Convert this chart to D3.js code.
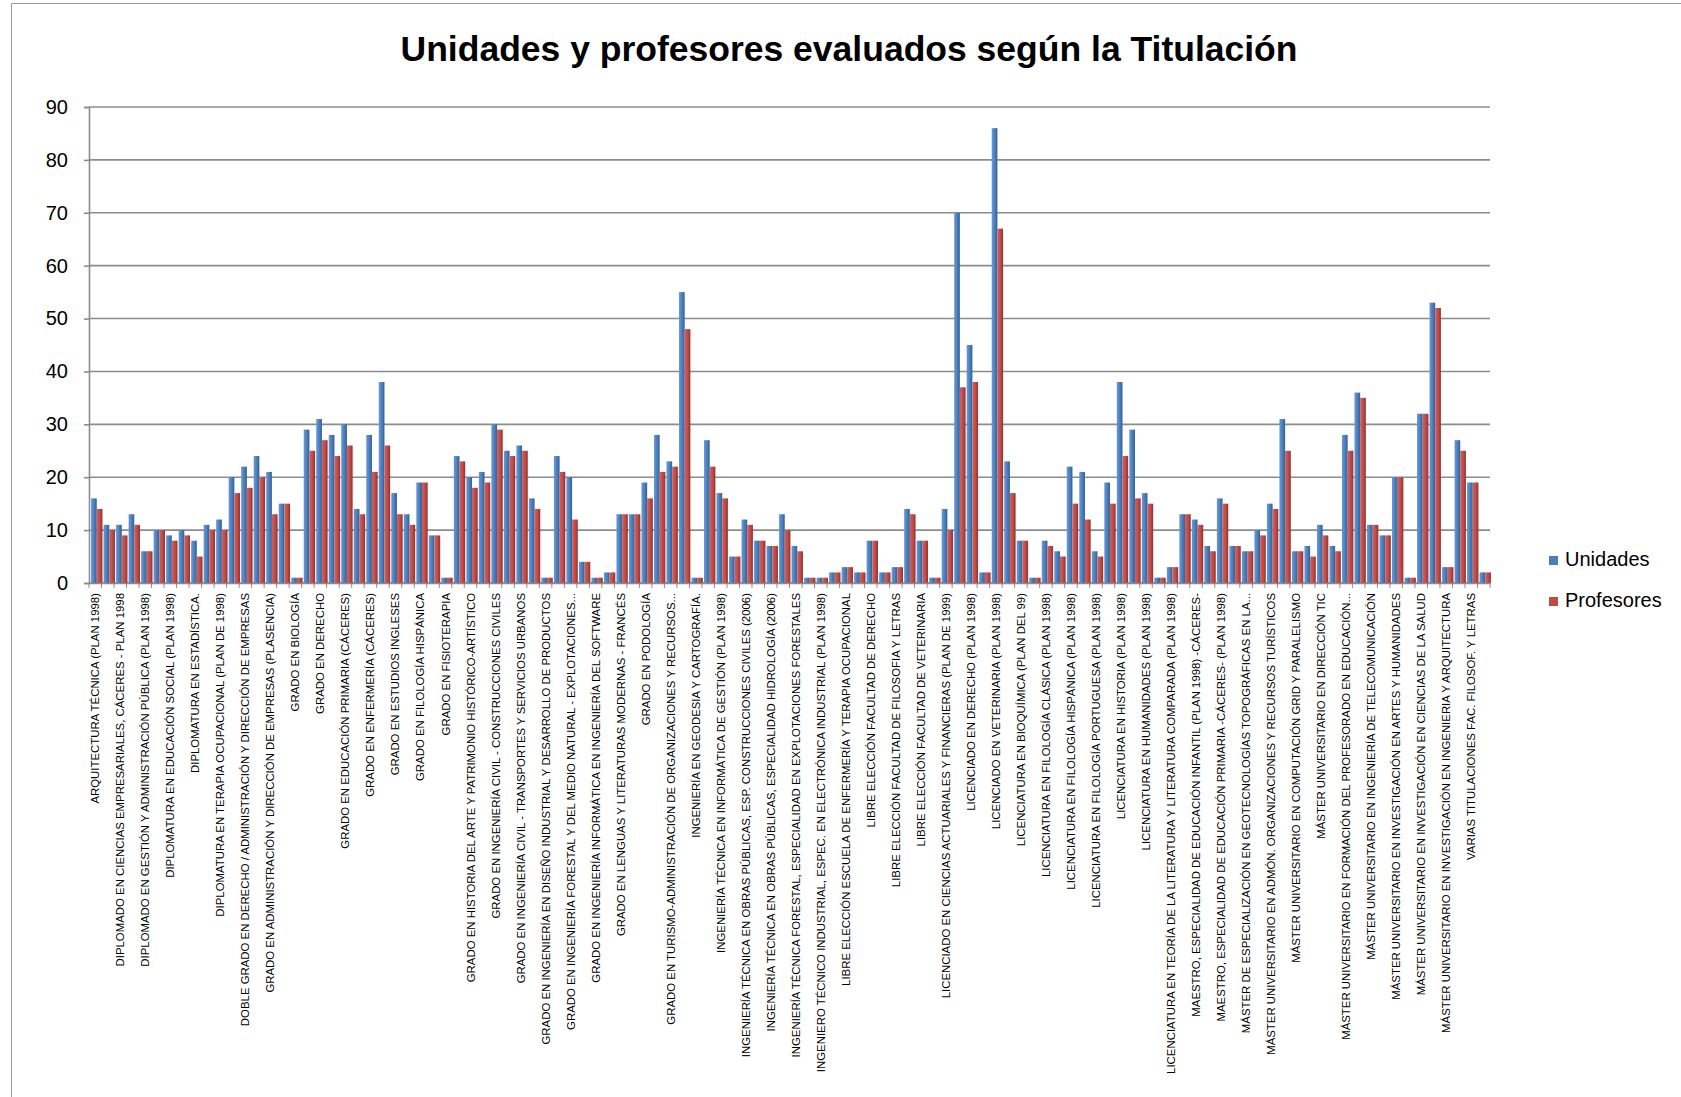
<!DOCTYPE html>
<html>
<head>
<meta charset="utf-8">
<script src="https://cdn.jsdelivr.net/npm/d3@7"></script>
<style>
  body { margin: 0; background: #fff; }
  svg { display: block; }
</style>
</head>
<body>
<svg id="chart"></svg>
<script>
// labels shown on the axis (Excel only prints every other category)
const tickLabels = [
  'ARQUITECTURA TÉCNICA (PLAN 1998)',
  'DIPLOMADO EN CIENCIAS EMPRESARIALES, CÁCERES - PLAN 1998',
  'DIPLOMADO EN GESTIÓN Y ADMINISTRACIÓN PÚBLICA (PLAN 1998)',
  'DIPLOMATURA EN EDUCACIÓN SOCIAL (PLAN 1998)',
  'DIPLOMATURA EN ESTADÍSTICA.',
  'DIPLOMATURA EN TERAPIA OCUPACIONAL (PLAN DE 1998)',
  'DOBLE GRADO EN DERECHO / ADMINISTRACIÓN Y DIRECCIÓN DE EMPRESAS',
  'GRADO EN ADMINISTRACIÓN Y DIRECCIÓN DE EMPRESAS (PLASENCIA)',
  'GRADO EN BIOLOGÍA',
  'GRADO EN DERECHO',
  'GRADO EN EDUCACIÓN PRIMARIA (CÁCERES)',
  'GRADO EN ENFERMERÍA (CÁCERES)',
  'GRADO EN ESTUDIOS INGLESES',
  'GRADO EN FILOLOGÍA HISPÁNICA',
  'GRADO EN FISIOTERAPIA',
  'GRADO EN HISTORIA DEL ARTE Y PATRIMONIO HISTÓRICO-ARTÍSTICO',
  'GRADO EN INGENIERÍA CIVIL - CONSTRUCCIONES CIVILES',
  'GRADO EN INGENIERÍA CIVIL - TRANSPORTES Y SERVICIOS URBANOS',
  'GRADO EN INGENIERÍA EN DISEÑO INDUSTRIAL Y DESARROLLO DE PRODUCTOS',
  'GRADO EN INGENIERÍA FORESTAL Y DEL MEDIO NATURAL - EXPLOTACIONES...',
  'GRADO EN INGENIERÍA INFORMÁTICA EN INGENIERÍA DEL SOFTWARE',
  'GRADO EN LENGUAS Y LITERATURAS MODERNAS - FRANCÉS',
  'GRADO EN PODOLOGÍA',
  'GRADO EN TURISMO-ADMINISTRACIÓN DE ORGANIZACIONES Y RECURSOS...',
  'INGENIERÍA EN GEODESIA Y CARTOGRAFÍA.',
  'INGENIERÍA TÉCNICA EN INFORMÁTICA DE GESTIÓN (PLAN 1998)',
  'INGENIERÍA TÉCNICA EN OBRAS PÚBLICAS, ESP. CONSTRUCCIONES CIVILES (2006)',
  'INGENIERÍA TÉCNICA EN OBRAS PÚBLICAS, ESPECIALIDAD HIDROLOGÍA (2006)',
  'INGENIERÍA TÉCNICA FORESTAL, ESPECIALIDAD EN EXPLOTACIONES FORESTALES',
  'INGENIERO TÉCNICO INDUSTRIAL, ESPEC. EN ELECTRÓNICA INDUSTRIAL (PLAN 1998)',
  'LIBRE ELECCIÓN ESCUELA DE ENFERMERÍA Y TERAPIA OCUPACIONAL',
  'LIBRE ELECCIÓN FACULTAD DE DERECHO',
  'LIBRE ELECCIÓN FACULTAD DE FILOSOFIA Y LETRAS',
  'LIBRE ELECCIÓN FACULTAD DE VETERINARIA',
  'LICENCIADO EN CIENCIAS ACTUARIALES Y FINANCIERAS  (PLAN DE 1999)',
  'LICENCIADO EN DERECHO (PLAN 1998)',
  'LICENCIADO EN VETERINARIA  (PLAN 1998)',
  'LICENCIATURA EN BIOQUÍMICA (PLAN DEL 99)',
  'LICENCIATURA EN FILOLOGÍA CLÁSICA (PLAN 1998)',
  'LICENCIATURA EN FILOLOGÍA HISPÁNICA (PLAN 1998)',
  'LICENCIATURA EN FILOLOGÍA PORTUGUESA (PLAN 1998)',
  'LICENCIATURA EN HISTORIA (PLAN 1998)',
  'LICENCIATURA EN HUMANIDADES (PLAN 1998)',
  'LICENCIATURA EN TEORÍA DE LA LITERATURA Y LITERATURA COMPARADA (PLAN 1998)',
  'MAESTRO, ESPECIALIDAD DE EDUCACIÓN INFANTIL (PLAN 1998) -CÁCERES-',
  'MAESTRO, ESPECIALIDAD DE EDUCACIÓN PRIMARIA -CÁCERES-  (PLAN 1998)',
  'MÁSTER DE ESPECIALIZACIÓN EN GEOTECNOLOGÍAS TOPOGRÁFICAS EN LA...',
  'MÁSTER UNIVERSITARIO EN ADMÓN. ORGANIZACIONES Y RECURSOS TURÍSTICOS',
  'MÁSTER UNIVERSITARIO EN COMPUTACIÓN GRID Y PARALELISMO',
  'MÁSTER UNIVERSITARIO EN DIRECCIÓN TIC',
  'MÁSTER UNIVERSITARIO EN FORMACIÓN DEL PROFESORADO EN EDUCACIÓN...',
  'MÁSTER UNIVERSITARIO EN INGENIERÍA DE TELECOMUNICACIÓN',
  'MÁSTER UNIVERSITARIO EN INVESTIGACIÓN EN ARTES Y HUMANIDADES',
  'MÁSTER UNIVERSITARIO EN INVESTIGACIÓN EN CIENCIAS DE LA SALUD',
  'MÁSTER UNIVERSITARIO EN INVESTIGACIÓN EN INGENIERIA Y ARQUITECTURA',
  'VARIAS TITULACIONES FAC. FILOSOF. Y LETRAS'
];

const unidades = [
  16, 11, 11, 13, 6, 10, 9, 10, 8, 11,
  12, 20, 22, 24, 21, 15, 1, 29, 31, 28,
  30, 14, 28, 38, 17, 13, 19, 9, 1, 24,
  20, 21, 30, 25, 26, 16, 1, 24, 20, 4,
  1, 2, 13, 13, 19, 28, 23, 55, 1, 27,
  17, 5, 12, 8, 7, 13, 7, 1, 1, 2,
  3, 2, 8, 2, 3, 14, 8, 1, 14, 70,
  45, 2, 86, 23, 8, 1, 8, 6, 22, 21,
  6, 19, 38, 29, 17, 1, 3, 13, 12, 7,
  16, 7, 6, 10, 15, 31, 6, 7, 11, 7,
  28, 36, 11, 9, 20, 1, 32, 53, 3, 27,
  19, 2
];

const profesores = [
  14, 10, 9, 11, 6, 10, 8, 9, 5, 10,
  10, 17, 18, 20, 13, 15, 1, 25, 27, 24,
  26, 13, 21, 26, 13, 11, 19, 9, 1, 23,
  18, 19, 29, 24, 25, 14, 1, 21, 12, 4,
  1, 2, 13, 13, 16, 21, 22, 48, 1, 22,
  16, 5, 11, 8, 7, 10, 6, 1, 1, 2,
  3, 2, 8, 2, 3, 13, 8, 1, 10, 37,
  38, 2, 67, 17, 8, 1, 7, 5, 15, 12,
  5, 15, 24, 16, 15, 1, 3, 13, 11, 6,
  15, 7, 6, 9, 14, 25, 6, 5, 9, 6,
  25, 35, 11, 9, 20, 1, 32, 52, 3, 25,
  19, 2
];

const series = ['Unidades', 'Profesores'];
const yTicks = [0, 10, 20, 30, 40, 50, 60, 70, 80, 90];

const width = 1681;
const height = 1097;
const margin = { top: 107, right: 191, bottom: 514, left: 89 };
const colors = { Unidades: ['#6a9ad6', '#4a7ebb', '#335f96'], Profesores: ['#d2625e', '#be4b48', '#93302e'] };

const svg = d3.select('#chart')
  .attr('width', width)
  .attr('height', height)
  .style('font-family', '"Liberation Sans", Arial, sans-serif');

// frame of the chart area
svg.append('path')
  .attr('d', `M11.5,${height} V3.5 H${width}`)
  .attr('fill', 'none')
  .attr('stroke', '#9a9a9a')
  .attr('stroke-width', 1);

// gradients to mimic the bevelled Excel bars
const defs = svg.append('defs');
series.forEach(s => {
  const g = defs.append('linearGradient').attr('id', 'grad-' + s).attr('x1', 0).attr('x2', 1).attr('y1', 0).attr('y2', 0);
  g.append('stop').attr('offset', '0%').attr('stop-color', colors[s][0]);
  g.append('stop').attr('offset', '55%').attr('stop-color', colors[s][1]);
  g.append('stop').attr('offset', '100%').attr('stop-color', colors[s][2]);
});

const x = d3.scaleBand()
  .domain(d3.range(unidades.length))
  .range([margin.left, width - margin.right])
  .paddingInner(0)
  .paddingOuter(0);

const xSub = d3.scaleBand()
  .domain(series)
  .range([0, x.bandwidth()])
  .paddingInner(0)
  .paddingOuter(0.1);

const y = d3.scaleLinear()
  .domain([0, 90])
  .range([height - margin.bottom, margin.top]);

// title
svg.append('text')
  .attr('x', 849)
  .attr('y', 61)
  .attr('text-anchor', 'middle')
  .style('font-size', '35.5px')
  .style('font-weight', 'bold')
  .text('Unidades y profesores evaluados según la Titulación');

// gridlines
svg.append('g')
  .selectAll('line')
  .data(yTicks)
  .enter()
  .append('line')
  .attr('x1', margin.left)
  .attr('x2', width - margin.right)
  .attr('y1', d => y(d))
  .attr('y2', d => y(d))
  .attr('stroke', '#8c8c8c')
  .attr('stroke-width', 1.6);

// y axis
const yAxis = svg.append('g')
  .attr('transform', `translate(${margin.left},0)`)
  .call(d3.axisLeft(y).tickValues(yTicks).tickSize(5).tickPadding(16));
yAxis.selectAll('text').style('font-size', '20px').style('fill', '#000');
yAxis.selectAll('line, path').attr('stroke', '#8c8c8c').attr('stroke-width', 1.6);

// bars
const rows = unidades.map((u, i) => ({ i, Unidades: u, Profesores: profesores[i] }));
const groups = svg.append('g')
  .selectAll('g')
  .data(rows)
  .enter()
  .append('g')
  .attr('transform', d => `translate(${x(d.i) + 1.5},0)`);

groups.selectAll('rect')
  .data(d => series.map(s => ({ key: s, value: d[s] })))
  .enter()
  .append('rect')
  .attr('x', d => xSub(d.key))
  .attr('y', d => y(d.value))
  .attr('width', xSub.bandwidth())
  .attr('height', d => y(0) - y(d.value))
  .attr('fill', d => `url(#grad-${d.key})`);

// x axis
const xAxis = svg.append('g')
  .attr('transform', `translate(0,${y(0)})`)
  .call(d3.axisBottom(x)
    .tickValues(d3.range(0, unidades.length, 2))
    .tickFormat(i => tickLabels[i / 2])
    .tickSize(0)
    .tickPadding(0));
xAxis.select('path').attr('stroke', '#8c8c8c').attr('stroke-width', 1.6);
xAxis.selectAll('text')
  .attr('transform', 'rotate(-90)')
  .attr('x', -10)
  .attr('y', 0)
  .attr('dy', '0.35em')
  .attr('text-anchor', 'end')
  .style('font-size', '11.4px')
  .style('fill', '#000');

// small tick marks between categories
svg.append('g')
  .selectAll('line')
  .data(d3.range(unidades.length + 1))
  .enter()
  .append('line')
  .attr('x1', i => margin.left + i * x.step())
  .attr('x2', i => margin.left + i * x.step())
  .attr('y1', y(0))
  .attr('y2', y(0) + 5)
  .attr('stroke', '#8c8c8c')
  .attr('stroke-width', 1);

// legend
const legend = svg.append('g')
  .selectAll('g')
  .data(series)
  .enter()
  .append('g')
  .attr('transform', (d, i) => `translate(1549,${566 + i * 41})`);

legend.append('rect')
  .attr('x', 0)
  .attr('y', -10)
  .attr('width', 9)
  .attr('height', 9)
  .attr('fill', d => colors[d][1]);

legend.append('text')
  .attr('x', 16)
  .attr('y', 0)
  .style('font-size', '20px')
  .text(d => d);
</script>
</body>
</html>
